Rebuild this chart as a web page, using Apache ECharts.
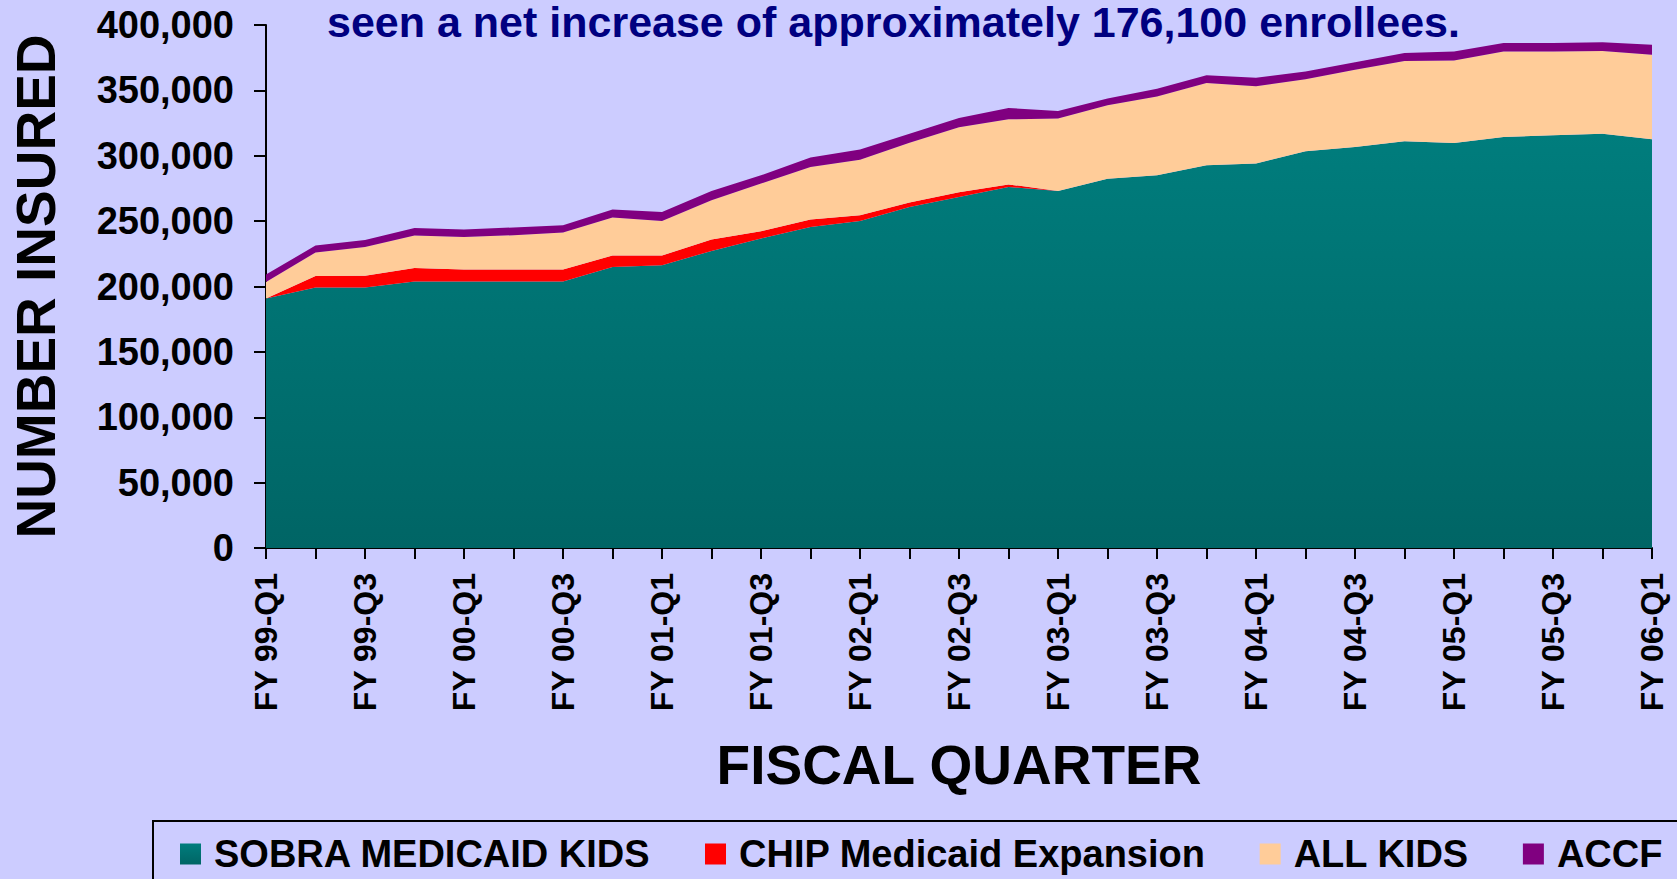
<!DOCTYPE html>
<html>
<head>
<meta charset="utf-8">
<script src="https://cdn.jsdelivr.net/npm/echarts@6/dist/echarts.min.js"></script>
<style>
html,body{margin:0;padding:0;background:#CCCCFF;}
#chart{width:1677px;height:879px;}
</style>
</head>
<body>
<div id="chart"></div>
<script>
const quarters = [
  "FY 99-Q1","FY 99-Q2","FY 99-Q3","FY 99-Q4",
  "FY 00-Q1","FY 00-Q2","FY 00-Q3","FY 00-Q4",
  "FY 01-Q1","FY 01-Q2","FY 01-Q3","FY 01-Q4",
  "FY 02-Q1","FY 02-Q2","FY 02-Q3","FY 02-Q4",
  "FY 03-Q1","FY 03-Q2","FY 03-Q3","FY 03-Q4",
  "FY 04-Q1","FY 04-Q2","FY 04-Q3","FY 04-Q4",
  "FY 05-Q1","FY 05-Q2","FY 05-Q3","FY 05-Q4",
  "FY 06-Q1"
];
const sobraMedicaidKids = [190800,199200,199200,203800,203800,203800,203800,215000,216300,227200,236700,245600,250100,260800,268500,276100,273100,282500,285000,292700,294000,303400,306700,311000,309800,314300,315600,316900,312600];
const chipMedicaidExpansion = [0,8900,9100,10400,9200,9200,9200,8700,7400,8700,5600,5600,4400,3500,3500,2000,0,0,0,0,0,0,0,0,0,0,0,0,0];
const allKids = [12700,17900,22000,24800,24900,26200,28300,29000,26400,30100,36400,40200,42500,45700,49800,49800,55300,56100,60400,62900,59100,55200,59100,61400,63100,65500,64200,63200,64700];
const accf = [5700,5300,5300,5800,5600,6000,5500,6100,6900,7100,6300,7200,7700,6900,7000,8600,5800,5100,5900,5900,6600,5800,5800,6100,6900,6400,6400,6800,7600];
const seriesNames = ["SOBRA MEDICAID KIDS","CHIP Medicaid Expansion","ALL KIDS","ACCF"];
const titleText = "seen a net increase of approximately 176,100 enrollees.";

const FONT = '"Liberation Sans", Arial, sans-serif';
const tealGrad = new echarts.graphic.LinearGradient(0, 0, 0, 1, [
  {offset: 0, color: '#007D7D'},
  {offset: 1, color: '#006565'}
]);
const colors = [tealGrad, '#FF0000', '#FFCC99', '#800080'];
const dataSets = [sobraMedicaidKids, chipMedicaidExpansion, allKids, accf];

const chart = echarts.init(document.getElementById('chart'), null, {renderer: 'svg'});
chart.setOption({
  backgroundColor: '#CCCCFF',
  animation: false,
  title: {
    text: titleText,
    left: 327, top: 2, padding: 0,
    textStyle: {fontFamily: FONT, fontSize: 43, fontWeight: 'bold', color: '#000080', lineHeight: 40}
  },
  graphic: [{
    type: 'rect', silent: true,
    shape: {x: 153, y: 821, width: 1600, height: 120},
    style: {fill: 'none', stroke: '#000000', lineWidth: 2}
  }],
  legend: {
    left: 175, top: 830,
    itemWidth: 21, itemHeight: 21, itemGap: 54,
    icon: 'rect',
    textStyle: {fontFamily: FONT, fontSize: 38, fontWeight: 'bold', color: '#000000', padding: [0, 0, 0, 8]},
    data: seriesNames.map((n, i) => ({name: n, itemStyle: {color: colors[i]}}))
  },
  grid: {left: 264, right: 25, top: 25, bottom: 331, containLabel: false},
  xAxis: {
    type: 'category', boundaryGap: false, data: quarters,
    name: 'FISCAL QUARTER', nameLocation: 'middle', nameGap: 189,
    nameTextStyle: {fontFamily: FONT, fontSize: 55, fontWeight: 'bold', color: '#000000'},
    axisLine: {lineStyle: {color: '#000000', width: 2}},
    axisTick: {show: true, interval: 0, length: 11, lineStyle: {color: '#000000', width: 2}},
    axisLabel: {interval: 1, rotate: 90, margin: 25, fontFamily: FONT, fontSize: 32, fontWeight: 'bold', color: '#000000'},
    splitLine: {show: false}
  },
  yAxis: {
    type: 'value', min: 0, max: 400000, interval: 50000,
    name: 'NUMBER INSURED', nameLocation: 'middle', nameGap: 203, nameRotate: 90,
    nameTextStyle: {fontFamily: FONT, fontSize: 55, fontWeight: 'bold', color: '#000000'},
    axisLine: {show: true, lineStyle: {color: '#000000', width: 2}},
    axisTick: {show: true, length: 12, lineStyle: {color: '#000000', width: 2}},
    axisLabel: {margin: 32, fontFamily: FONT, fontSize: 38, fontWeight: 'bold', color: '#000000',
      formatter: v => v.toLocaleString('en-US')},
    splitLine: {show: false}
  },
  series: seriesNames.map((n, i) => ({
    name: n, type: 'line', stack: 'total', data: dataSets[i],
    symbol: 'none', smooth: false,
    lineStyle: {width: 0, opacity: 0},
    itemStyle: {color: colors[i]},
    areaStyle: {color: colors[i], opacity: 1}
  }))
});
</script>
</body>
</html>
